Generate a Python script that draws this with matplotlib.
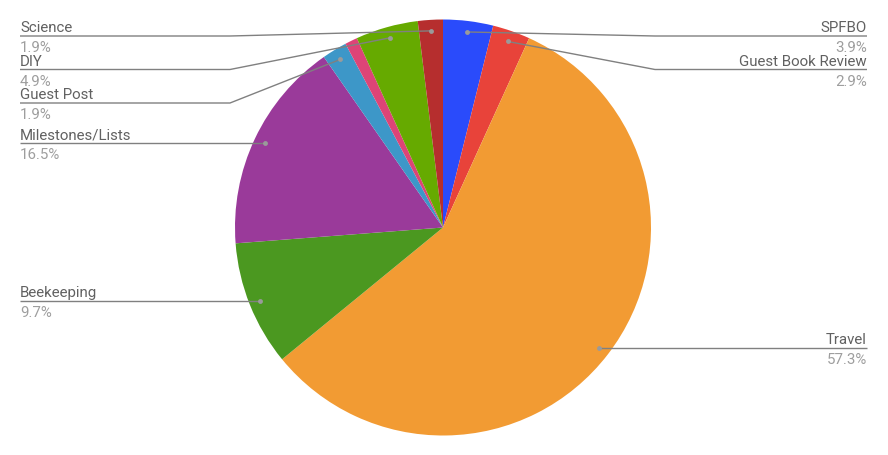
import numpy as np
import matplotlib
matplotlib.use('Agg')
import matplotlib.pyplot as plt

## DATA ##

# post counts per category, clockwise from the top
categories = ['SPFBO', 'Guest Book Review', 'Travel', 'Beekeeping', 'Milestones/Lists',
              'Guest Post', 'Other', 'DIY', 'Science']
counts = [4, 3, 59, 10, 17, 2, 1, 5, 2]
colors = ['#2a4bfb', '#e8433a', '#f29b33', '#4b9820', '#9a3a9a',
          '#3d97c8', '#dd4477', '#66aa00', '#b62e2e']

## LAYOUT ##

W, H = 888, 456
cx, cy = 443, H - 228.5     # pie centre in pixels (y up)
radius = 208
dot_r = 197                 # where leader lines start
left_x, right_x = 20, 867   # label edges
left_knee, right_knee = 230, 655
top_line = H - 37
spacing = 33.5
min_pct = 1.5               # slices smaller than this get no label
fs = 10.8

name_color = '#616161'
pct_color = '#9e9e9e'
line_color = '#808080'

plt.rcParams['font.family'] = ['Roboto', 'DejaVu Sans']

fig = plt.figure(figsize=(W / 100, H / 100), dpi=100)
ax = fig.add_axes([0, 0, 1, 1])

wedges, _ = ax.pie(counts, colors=colors, startangle=90, counterclock=False,
                   center=(cx, cy), radius=radius, wedgeprops=dict(linewidth=0))

ax.set_xlim(0, W)
ax.set_ylim(0, H)
ax.set_aspect('equal')
ax.axis('off')

# collect label anchors
total = sum(counts)
labels = []
for w, name, c in zip(wedges, categories, counts):
    pct = c / total * 100
    if pct < min_pct:
        continue
    mid = np.deg2rad((w.theta1 + w.theta2) / 2)
    dx = cx + dot_r * np.cos(mid)
    dy = cy + dot_r * np.sin(mid)
    labels.append(dict(name=name, pct=pct, dx=dx, dy=dy, side='right' if dx > cx else 'left'))

# spread labels on each side, top to bottom
for side in ['left', 'right']:
    group = sorted([l for l in labels if l['side'] == side], key=lambda l: -l['dy'])
    prev = None
    for l in group:
        y = min(l['dy'], top_line)
        if prev is not None:
            y = min(y, prev - spacing)
        l['ly'] = y
        prev = y

for l in labels:
    y = l['ly']
    if l['side'] == 'left':
        ex, knee, ha = left_x, left_knee, 'left'
        knee = min(knee, l['dx'])
    else:
        ex, knee, ha = right_x, right_knee, 'right'
        knee = max(knee, l['dx'])
    ax.plot([ex, knee, l['dx']], [y, y, l['dy']], color=line_color, lw=1,
            solid_capstyle='butt', zorder=3)
    ax.plot(l['dx'], l['dy'], 'o', ms=3.5, color='#9a9a9a', mec='none', zorder=4)
    ax.text(ex, y + 5, l['name'], ha=ha, va='baseline', fontsize=fs, color=name_color)
    ax.text(ex, y - 4, '%.1f%%' % l['pct'], ha=ha, va='top', fontsize=fs, color=pct_color)

fig.savefig('out.png', dpi=100)
